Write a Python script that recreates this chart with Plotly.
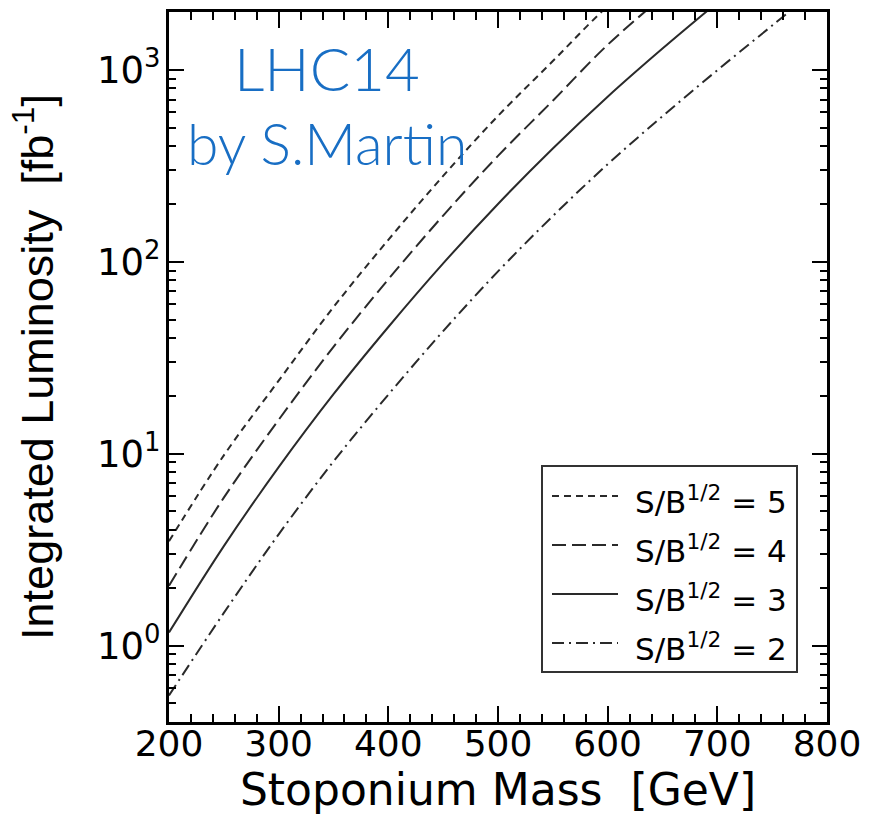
import plotly.graph_objects as go

# Stoponium mass grid [GeV]
mass = [200, 250, 300, 350, 400, 450, 500, 550, 600, 650, 700, 750, 800]

# Integrated luminosity [fb^-1] needed for each significance S/B^(1/2)
lumi_5 = [3.5, 9.8, 24.0, 58.0, 130.0, 280.0, 575.0, 1110.0, 2150.0, 3800.0]
lumi_4 = [2.05, 5.9, 15.0, 36.0, 81.0, 174.0, 356.0, 690.0, 1350.0, 2400.0]
lumi_3 = [1.17, 3.3, 8.5, 20.4, 45.7, 98.0, 200.0, 389.0, 724.0, 1290.0, 2240.0]
lumi_2 = [0.55, 1.48, 3.8, 9.1, 20.3, 43.5, 89.0, 173.0, 322.0, 573.0, 995.0, 1700.0, 2900.0]

labels = ["S/B<sup>1/2</sup> = 5", "S/B<sup>1/2</sup> = 4",
          "S/B<sup>1/2</sup> = 3", "S/B<sup>1/2</sup> = 2"]

x_ticks = [200, 300, 400, 500, 600, 700, 800]
x_ticktext = ["200", "300", "400", "500", "600", "700", "800"]
y_ticks = [1, 10, 100, 1000]
y_ticktext = ["10<sup>0</sup>", "10<sup>1</sup>", "10<sup>2</sup>", "10<sup>3</sup>"]

W, H = 892, 817
L_M, R_M, T_M, B_M = 169, 65, 12, 95
PW, PH = W - L_M - R_M, H - T_M - B_M


def px(x):
    return (x - L_M) / PW


def py(y):
    return (H - B_M - y) / PH


LINE_COLOR = "#2a2a2a"
dashes = ["7px,5px", "14px,6px", "solid", "12px,5px,2px,5px"]
series = [lumi_5, lumi_4, lumi_3, lumi_2]

fig = go.Figure()
for vals, dash, name in zip(series, dashes, labels):
    fig.add_trace(go.Scatter(
        x=mass[:len(vals)], y=vals, mode="lines", name=name,
        line=dict(color=LINE_COLOR, width=2, dash=dash, shape="spline"),
        showlegend=False,
    ))

font_wide = "DejaVu Sans, Verdana, sans-serif"
font_main = "Liberation Sans, Arial, Helvetica, sans-serif"

minor_y = [k * 10 ** e for e in range(-1, 4) for k in range(2, 10)
           if 0.4 <= k * 10 ** e <= 2000]

fig.update_xaxes(
    range=[200, 800], tickmode="array", tickvals=x_ticks, ticktext=x_ticktext,
    ticks="inside", ticklen=16, tickwidth=2, tickcolor="black",
    showline=True, linewidth=3, linecolor="black", mirror="allticks",
    showgrid=False, zeroline=False,
    minor=dict(ticks="inside", dtick=20, tick0=200, ticklen=8,
               tickwidth=2, tickcolor="black", showgrid=False),
    tickfont=dict(family=font_wide, size=36, color="black"),
    ticklabelstandoff=-12,
    title=dict(text="Stoponium Mass  [GeV]",
               font=dict(family=font_wide, size=44, color="black"),
               standoff=0),
)
fig.update_yaxes(
    type="log", range=[-0.398, 3.301],
    tickmode="array", tickvals=y_ticks, ticktext=y_ticktext,
    ticks="inside", ticklen=15, tickwidth=2, tickcolor="black",
    showline=True, linewidth=3, linecolor="black", mirror="allticks",
    showgrid=False, zeroline=False,
    minor=dict(ticks="inside", tickmode="array", tickvals=minor_y, ticklen=7,
               tickwidth=2, tickcolor="black", showgrid=False),
    tickfont=dict(family=font_wide, size=37, color="black"),
    ticklabelstandoff=-2,
    title=dict(text="Integrated Luminosity  [fb<sup>-1</sup>]",
               font=dict(family=font_main, size=45, color="black"),
               standoff=30),
)

# Legend box drawn with shapes and annotations
shapes = [dict(type="rect", xref="paper", yref="paper",
               x0=px(542), x1=px(797), y0=py(672), y1=py(466),
               line=dict(color="#333333", width=2), fillcolor="white",
               layer="above")]
row_y = [496, 545, 594, 643]
annotations = []
for yy, dash, name in zip(row_y, dashes, labels):
    shapes.append(dict(type="line", xref="paper", yref="paper",
                       x0=px(552), x1=px(618), y0=py(yy), y1=py(yy),
                       line=dict(color=LINE_COLOR, width=2, dash=dash),
                       layer="above"))
    annotations.append(dict(xref="paper", yref="paper", x=px(633), y=py(yy + 4),
                            xanchor="left", yanchor="middle", showarrow=False,
                            text=name,
                            font=dict(family=font_wide, size=31, color="black")))

blue = "rgb(24,110,196)"
annotations.append(dict(xref="paper", yref="paper", x=px(327), y=py(68),
                        xanchor="center", yanchor="middle", showarrow=False,
                        text="LHC14",
                        font=dict(family="Lato, Open Sans, sans-serif", size=60,
                                  color=blue, weight=300)))
annotations.append(dict(xref="paper", yref="paper", x=px(327), y=py(143),
                        xanchor="center", yanchor="middle", showarrow=False,
                        text="by S.Martin",
                        font=dict(family="Lato, Open Sans, sans-serif", size=57,
                                  color=blue, weight=300)))

fig.update_layout(
    width=W, height=H,
    margin=dict(l=L_M, r=R_M, t=T_M, b=B_M, autoexpand=False),
    paper_bgcolor="white", plot_bgcolor="white",
    shapes=shapes, annotations=annotations,
    showlegend=False,
)

fig.write_html("out.html")
